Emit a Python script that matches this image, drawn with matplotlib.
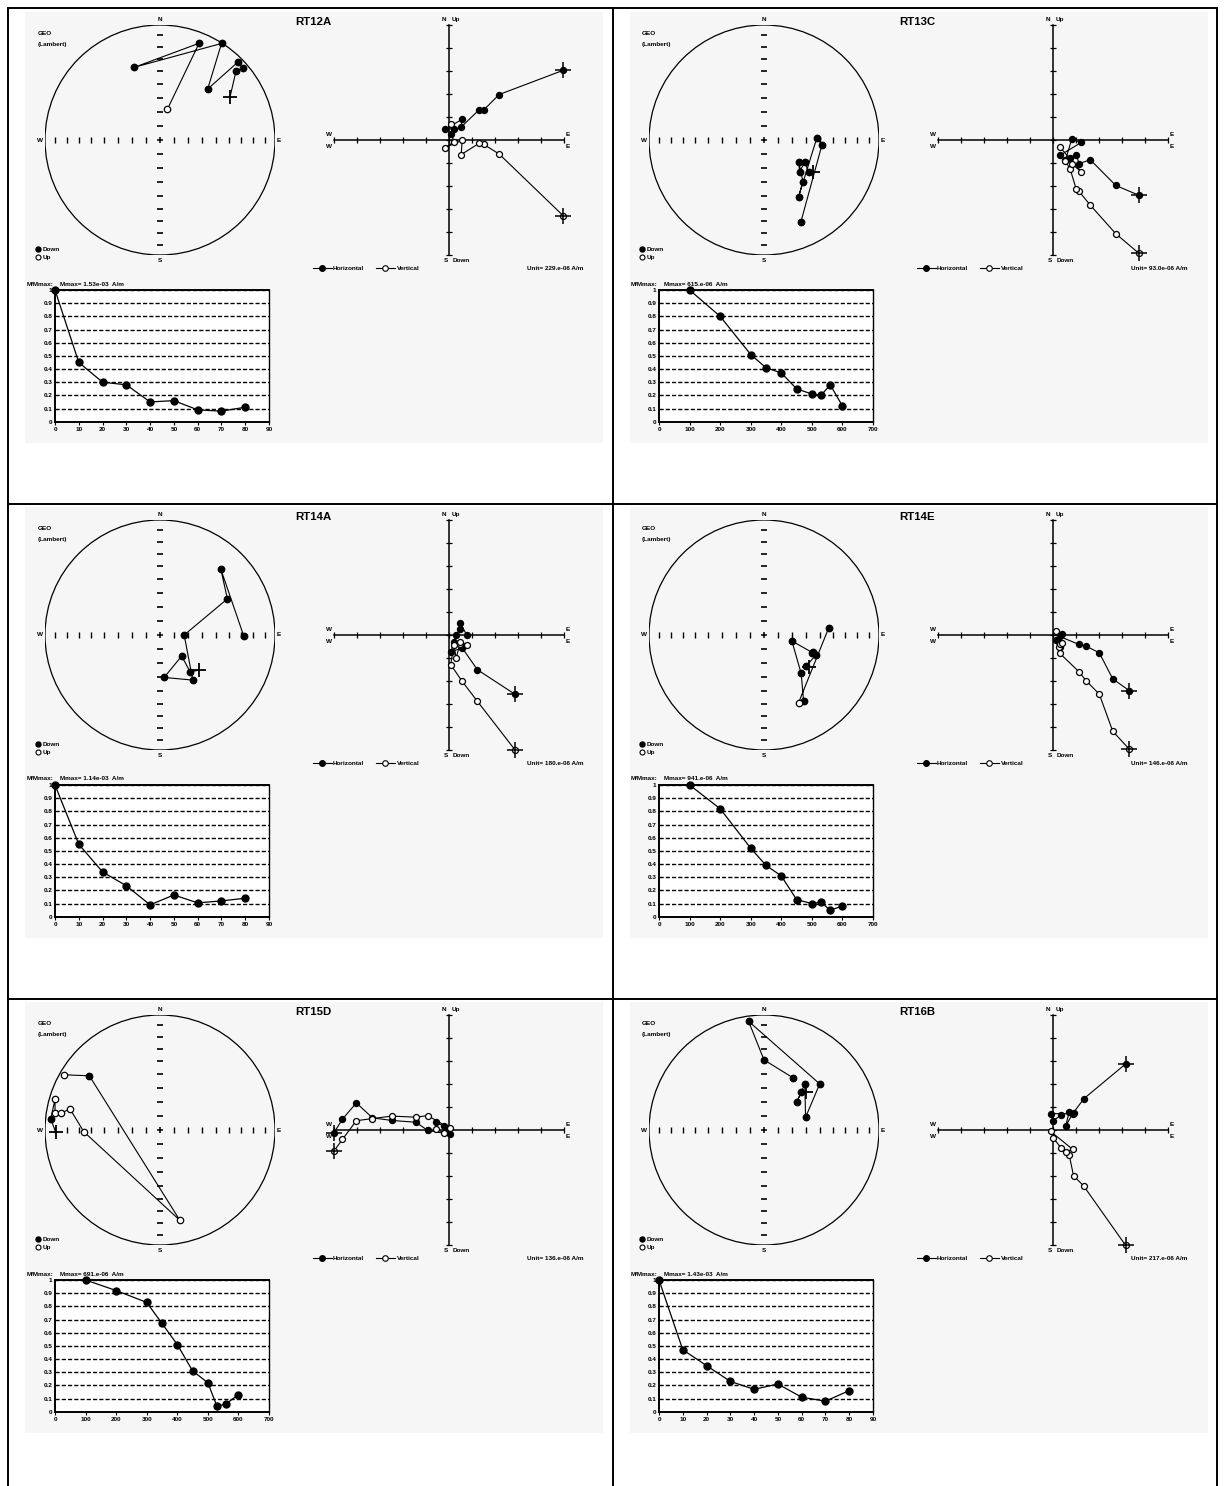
import numpy as np
import matplotlib.pyplot as plt
from matplotlib.patches import Circle, Rectangle
from matplotlib.lines import Line2D

plt.rcParams['font.family'] = ['Liberation Sans', 'DejaVu Sans']
plt.rcParams['font.weight'] = 'bold'

W, H = 1225, 1486

# demagnetisation steps (AF in mT, thermal in deg C)
af_steps = [0, 10, 20, 30, 40, 50, 60, 70, 80]
th_steps = [100, 200, 300, 350, 400, 450, 500, 530, 560, 600]

names = ['RT12A', 'RT13C', 'RT14A', 'RT14E', 'RT15D', 'RT16B']
mmax_txt = ['1.53e-03', '615.e-06', '1.14e-03', '941.e-06', '691.e-06', '1.43e-03']
unit_txt = ['229.e-06', '93.0e-06', '180.e-06', '146.e-06', '136.e-06', '217.e-06']

# M/Mmax, declination, inclination per step
rt12a_m = [1.0, 0.45, 0.30, 0.28, 0.15, 0.16, 0.09, 0.08, 0.11]
rt12a_dec = [58.6, 47.8, 49.1, 45.0, 43.1, 32.5, 340.6, 22.0, 13.5]
rt12a_inc = [29.5, 11.7, 5.5, 4.2, 39.2, 0.5, 33.4, 10.2, -67.6]

rt13c_m = [1.0, 0.80, 0.51, 0.41, 0.37, 0.25, 0.21, 0.20, 0.28, 0.12]
rt13c_dec = [122.8, 125.9, 117.9, 132.2, 122.0, 136.9, 148.6, 87.5, 94.9, 155.9]
rt13c_inc = [48.0, 50.4, 57.1, 55.6, 60.9, 49.0, 41.8, 52.0, 48.1, 22.7]

rt14a_m = [1.0, 0.55, 0.34, 0.235, 0.09, 0.165, 0.105, 0.12, 0.14]
rt14a_dec = [131.9, 140.7, 134.2, 174.4, 144.0, 90.0, 61.8, 42.7, 90.7]
rt14a_inc = [52.3, 55.9, 68.6, 59.6, 49.9, 72.9, 33.9, 23.1, 28.0]

rt14e_m = [1.0, 0.82, 0.52, 0.39, 0.31, 0.13, 0.10, 0.11, 0.05, 0.08]
rt14e_dec = [126.1, 126.3, 111.0, 108.7, 110.0, 102.1, 136.0, 149.1, 153.0, 83.5]
rt14e_inc = [50.4, 52.4, 50.0, 52.6, 53.0, 69.8, 51.6, 33.3, -34.2, 42.7]

rt15d_m = [1.0, 0.92, 0.83, 0.67, 0.51, 0.31, 0.22, 0.04, 0.06, 0.13]
rt15d_dec = [268.7, 275.8, 286.3, 279.0, 279.5, 283.2, 268.7, 167.6, 307.5, 299.8]
rt15d_inc = [10.3, 5.0, -5.5, -8.4, -13.5, -20.7, -34.1, -20.7, 23.6, -3.8]

rt16b_m = [1.0, 0.47, 0.35, 0.23, 0.17, 0.21, 0.11, 0.08, 0.16]
rt16b_dec = [47.7, 44.6, 49.7, 41.7, 73.0, 50.4, 351.9, 0.0, 28.5]
rt16b_inc = [49.6, 52.0, 59.5, 45.7, 59.0, 37.2, 5.0, 38.9, 46.9]

samples = [
    (af_steps, rt12a_m, rt12a_dec, rt12a_inc, 90, 10),
    (th_steps, rt13c_m, rt13c_dec, rt13c_inc, 700, 100),
    (af_steps, rt14a_m, rt14a_dec, rt14a_inc, 90, 10),
    (th_steps, rt14e_m, rt14e_dec, rt14e_inc, 700, 100),
    (th_steps, rt15d_m, rt15d_dec, rt15d_inc, 700, 100),
    (af_steps, rt16b_m, rt16b_dec, rt16b_inc, 90, 10),
]

FS = 4.6
BG = '#f6f6f6'

fig = plt.figure(figsize=(W / 100, H / 100), dpi=100)


def px_axes(x, y, w, h):
    return fig.add_axes([x / W, 1 - (y + h) / H, w / W, h / H])


def lambert(dec, inc):
    d = np.radians(dec)
    r = np.sqrt(2) * np.sin(np.radians(90 - np.abs(inc)) / 2)
    return r * np.sin(d), r * np.cos(d)


# gray panels and table grid
for k in range(6):
    ox, oy = 605 * (k % 2), 495 * (k // 2)
    fig.add_artist(Rectangle(((25 + ox) / W, 1 - (443 + oy) / H), 578 / W, 431 / H,
                             transform=fig.transFigure, fc=BG, ec='none', zorder=-5))
kw = dict(color='black', lw=1.4, transform=fig.transFigure)
for x in (8, 613, 1217):
    fig.add_artist(Line2D([x / W, x / W], [1 - 8 / H, 0], **kw))
for y in (8, 504, 999):
    fig.add_artist(Line2D([8 / W, 1217 / W], [1 - y / H] * 2, **kw))

tick_r = np.sqrt(2) * np.sin(np.radians(90 - np.arange(10, 90, 10)) / 2)

for k, (steps, mrel, dec, inc, xmax, xstep) in enumerate(samples):
    ox, oy = 604 * (k % 2), 495 * (k // 2)
    mrel = np.array(mrel)
    dec = np.array(dec)
    inc = np.array(inc)

    fig.text((313 + ox) / W, 1 - (22 + oy) / H, names[k], ha='center', va='center',
             fontsize=8.2)

    # ---- equal-area stereonet ----
    ax = px_axes(45 + ox, 25 + oy, 230, 230)
    ax.set_xlim(-1, 1)
    ax.set_ylim(-1, 1)
    ax.axis('off')
    ax.add_patch(Circle((0, 0), 1, fill=False, lw=0.9, ec='k'))
    zeros = np.zeros(16)
    ax.plot(np.r_[-tick_r, tick_r], zeros, ls='none', marker='|', ms=4.2, mew=1.0, color='k')
    ax.plot(zeros, np.r_[-tick_r, tick_r], ls='none', marker='_', ms=4.2, mew=1.2, color='k')
    ax.plot(0, 0, marker='+', ms=4.5, mew=1.1, color='k')
    sx, sy = lambert(dec, inc)
    ax.plot(sx, sy, color='k', lw=0.8, zorder=3)
    dn = inc >= 0
    dn[0] = False
    up = inc < 0
    up[0] = False
    ax.plot(sx[dn], sy[dn], ls='none', marker='o', ms=4.6, mfc='k', mec='k', zorder=4)
    ax.plot(sx[up], sy[up], ls='none', marker='o', ms=4.6, mfc='white', mec='k', mew=0.9, zorder=4)
    ax.plot(sx[0], sy[0], marker='+', ms=10, mew=1.3, color='k', zorder=5)
    for s, (tx, ty) in zip('NSWE', [(0, 1.045), (0, -1.045), (-1.045, 0), (1.035, 0)]):
        ax.text(tx, ty, s, ha='center', va='center', fontsize=FS)
    ax.text(-1.06, 0.93, 'GEO', ha='left', va='center', fontsize=FS)
    ax.text(-1.06, 0.83, '(Lambert)', ha='left', va='center', fontsize=FS)
    ax.plot(-1.058, -0.95, marker='o', ms=3.6, mfc='k', mec='k', clip_on=False)
    ax.plot(-1.058, -1.02, marker='o', ms=3.6, mfc='white', mec='k', mew=0.8, clip_on=False)
    ax.text(-1.017, -0.95, 'Down', ha='left', va='center', fontsize=FS)
    ax.text(-1.017, -1.02, 'Up', ha='left', va='center', fontsize=FS)

    # ---- orthogonal vector plot ----
    scale = float(mmax_txt[k]) / float(unit_txt[k])
    m = mrel * scale
    n_c = m * np.cos(np.radians(inc)) * np.cos(np.radians(dec))
    e_c = m * np.cos(np.radians(inc)) * np.sin(np.radians(dec))
    d_c = m * np.sin(np.radians(inc))

    az = px_axes(334 + ox, 25 + oy, 230, 230)
    az.set_xlim(-5, 5)
    az.set_ylim(-5, 5)
    az.patch.set_visible(False)
    for s in ('top', 'right'):
        az.spines[s].set_visible(False)
    for s in ('left', 'bottom'):
        az.spines[s].set_position('zero')
        az.spines[s].set_linewidth(1.1)
    az.set_xticks(range(-5, 6))
    az.set_yticks(range(-5, 6))
    az.tick_params(direction='inout', length=4, width=0.9, labelbottom=False, labelleft=False)
    az.plot(e_c, n_c, color='k', lw=0.8, marker='o', ms=4.3, mfc='k', mec='k', zorder=4,
            clip_on=False)
    az.plot(e_c, -d_c, color='k', lw=0.8, marker='o', ms=4.3, mfc='white', mec='k', mew=0.9,
            zorder=4, clip_on=False)
    az.plot([e_c[0], e_c[0]], [n_c[0], -d_c[0]], ls='none', marker='+', ms=12, mew=1.1,
            color='k', zorder=5, clip_on=False)
    az.text(-0.12, 5.22, 'N', ha='right', va='center', fontsize=FS)
    az.text(0.1, 5.22, 'Up', ha='left', va='center', fontsize=FS)
    az.text(-0.05, -5.26, 'S', ha='right', va='center', fontsize=FS)
    az.text(0.15, -5.26, 'Down', ha='left', va='center', fontsize=FS)
    for yy in (0.22, -0.3):
        az.text(-5.2, yy, 'W', ha='center', va='center', fontsize=FS)
        az.text(5.15, yy, 'E', ha='center', va='center', fontsize=FS)
    ly = -5.57
    az.plot([-5.91, -5.09], [ly, ly], color='k', lw=0.8, clip_on=False)
    az.plot(-5.52, ly, marker='o', ms=4, mfc='k', mec='k', clip_on=False)
    az.text(-5.04, ly, 'Horizontal', ha='left', va='center', fontsize=FS)
    az.plot([-3.17, -2.35], [ly, ly], color='k', lw=0.8, clip_on=False)
    az.plot(-2.78, ly, marker='o', ms=4, mfc='white', mec='k', mew=0.8, clip_on=False)
    az.text(-2.26, ly, 'Vertical', ha='left', va='center', fontsize=FS)
    az.text(5.83, ly, f'Unit= {unit_txt[k]} A/m', ha='right', va='center', fontsize=FS)

    # ---- intensity decay ----
    am = px_axes(55 + ox, 290 + oy, 214, 131.7)
    am.set_facecolor('white')
    am.set_xlim(0, xmax)
    am.set_ylim(0, 1)
    am.set_xticks(np.arange(0, xmax + 1, xstep))
    am.set_yticks(np.round(np.arange(0, 1.01, 0.1), 1))
    am.set_yticklabels(['0'] + [f'{v:.1f}' for v in np.arange(0.1, 0.95, 0.1)] + ['1'])
    am.tick_params(axis='both', labelsize=FS, pad=2)
    am.tick_params(axis='y', length=0)
    am.tick_params(axis='x', length=2, width=0.8)
    for s in am.spines.values():
        s.set_linewidth(1.4)
    am.spines['right'].set_linewidth(1.0)
    am.yaxis.grid(True, color='k', linestyle=(0, (3, 1.5)), lw=1.0)
    am.plot(steps, mrel, color='k', lw=0.9, marker='o', ms=5, mfc='k', zorder=4, clip_on=False)
    fig.text((27 + ox) / W, 1 - (284 + oy) / H, 'M/Mmax:', ha='left', va='center', fontsize=FS)
    fig.text((60 + ox) / W, 1 - (284 + oy) / H, f'Mmax= {mmax_txt[k]}  A/m', ha='left',
             va='center', fontsize=FS)

fig.savefig('out.png', dpi=100)
